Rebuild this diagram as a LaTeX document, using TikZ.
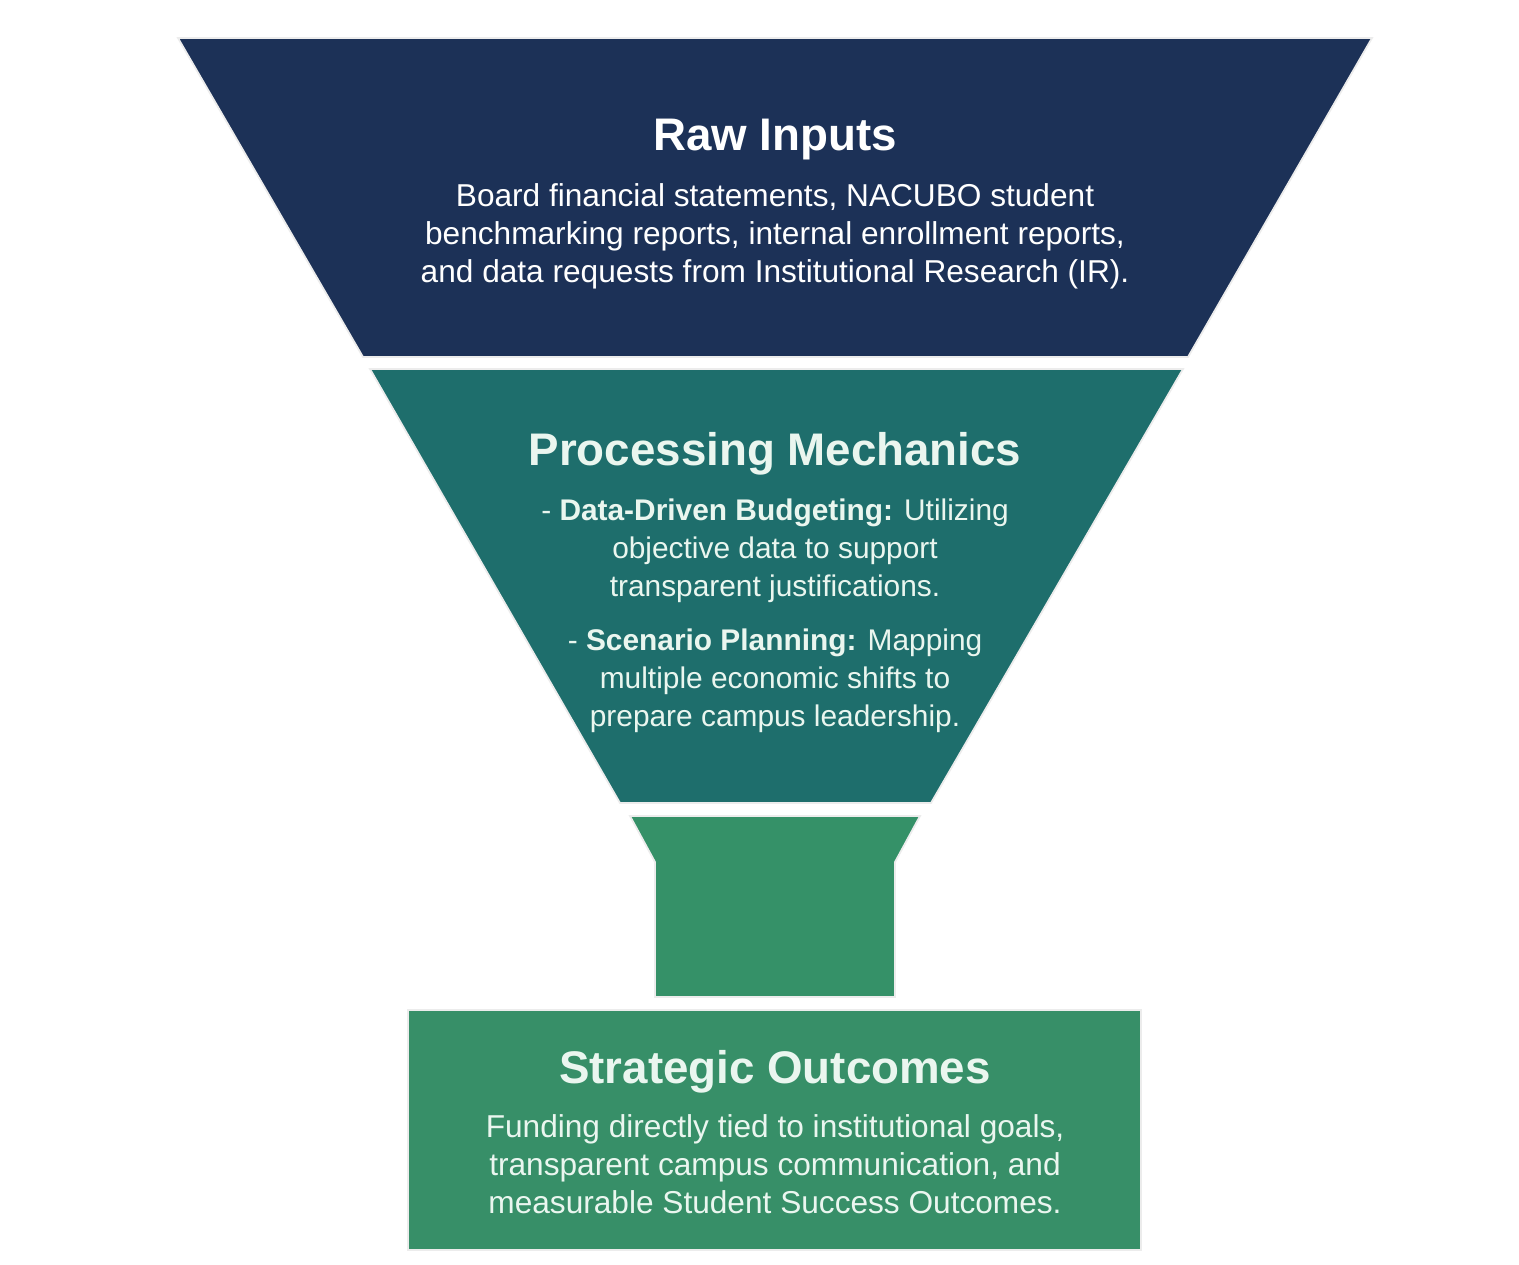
\documentclass[tikz,border=0pt]{standalone}
\usepackage{fontspec}
\setmainfont{Liberation Sans}
\usetikzlibrary{positioning,calc,backgrounds}
\definecolor{rawnavy}{HTML}{1C3157}
\definecolor{proteal}{HTML}{1E6E6C}
\definecolor{neckgreen}{HTML}{359168}
\definecolor{outgreen}{HTML}{378F68}
\definecolor{mint}{HTML}{EAF6EF}

\begin{document}
\begin{tikzpicture}
[x=1cm,y=1cm,
every node/.style={draw=none,align=center,inner sep=0pt},
title/.style={font=\fontsize{13}{15}\selectfont\bfseries},
body/.style={font=\fontsize{8.5}{10.8}\selectfont},
widebody/.style={font=\fontsize{9}{10.8}\selectfont},
band/.style={draw=white!85!gray,line width=.5pt}]
%%
\useasboundingbox (0,0) rectangle (15.19,12.64);
\fill[white] (0,0) rectangle (15.19,12.64);
%%
%% funnel bands
\filldraw[band,fill=rawnavy] (1.78,12.26) -- (13.72,12.26) -- (11.88,9.07) -- (3.63,9.07) -- cycle;
\filldraw[band,fill=proteal] (3.70,8.95) -- (11.83,8.95) -- (9.31,4.61) -- (6.20,4.61) -- cycle;
\filldraw[band,fill=neckgreen] (6.30,4.48) -- (9.20,4.48) -- (8.95,4.02) -- (8.95,2.67) -- (6.55,2.67) -- (6.55,4.02) -- cycle;
\filldraw[band,fill=outgreen] (4.08,0.14) rectangle (11.41,2.54);
%%
%% raw inputs
\node[title,text=white] (rawtitle) at (7.75,11.24) {Raw Inputs};
\node[widebody,text=white] (rawbody) at (7.75,10.28)
  {Board financial statements, NACUBO student\\
   benchmarking reports, internal enrollment reports,\\
   and data requests from Institutional Research (IR).};
%%
%% processing
\node[title,text=mint] (proctitle) at (7.75,8.10) {Processing Mechanics};
\node[body,text=mint] (procbudget) at (7.75,7.135)
  {- \textbf{Data-Driven Budgeting:} Utilizing\\
   objective data to support\\
   transparent justifications.};
\node[body,text=mint] (procscen) at (7.75,5.83)
  {- \textbf{Scenario Planning:} Mapping\\
   multiple economic shifts to\\
   prepare campus leadership.};
%%
%% outcomes
\node[title,text=mint] (outtitle) at (7.75,1.92) {Strategic Outcomes};
\node[widebody,text=mint] (outbody) at (7.75,1.00)
  {Funding directly tied to institutional goals,\\
   transparent campus communication, and\\
   measurable Student Success Outcomes.};
\end{tikzpicture}
\end{document}
